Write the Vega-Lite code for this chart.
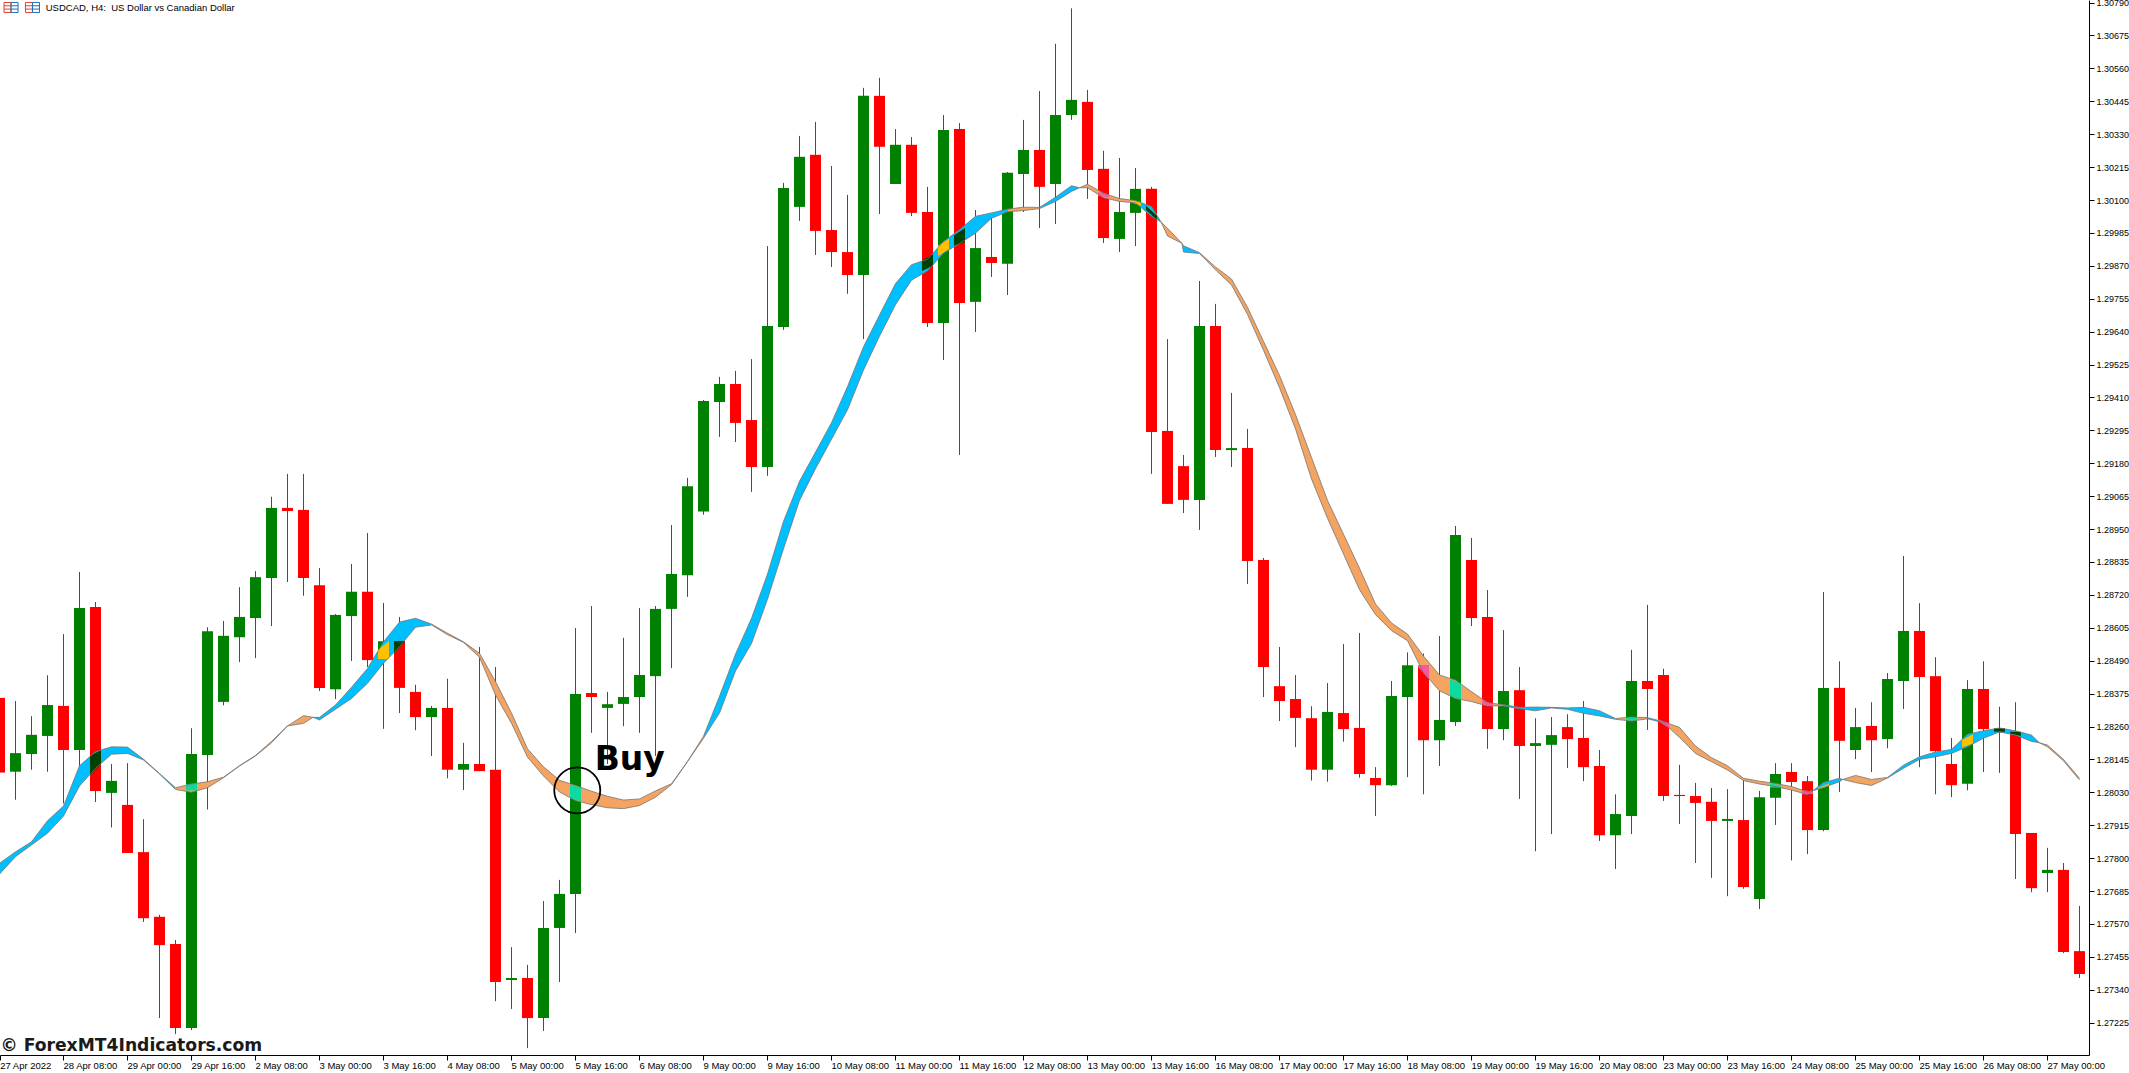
{"$schema":"https://vega.github.io/schema/vega-lite/v6.json","width":2089,"height":1055,"autosize":{"type":"none"},"padding":{"left":0,"top":0,"right":40,"bottom":18},"background":"#ffffff","config":{"view":{"stroke":null}},
"datasets":{"candles":[
{"i":0,"o":1.2836,"h":1.2836,"l":1.28099,"c":1.28099,"kind":"bear"},{"i":1,"o":1.28102,"h":1.28349,"l":1.28004,"c":1.28167,"kind":"bull"},{"i":2,"o":1.28164,"h":1.28296,"l":1.28109,"c":1.28231,"kind":"bull"},{"i":3,"o":1.28227,"h":1.28439,"l":1.28102,"c":1.28335,"kind":"bull"},{"i":4,"o":1.28332,"h":1.28583,"l":1.27991,"c":1.28178,"kind":"bear"},{"i":5,"o":1.28178,"h":1.288,"l":1.28122,"c":1.28674,"kind":"bull"},{"i":6,"o":1.28678,"h":1.28695,"l":1.27996,"c":1.28035,"kind":"bear"},{"i":7,"o":1.28028,"h":1.28129,"l":1.27907,"c":1.2807,"kind":"bull"},{"i":8,"o":1.27986,"h":1.28132,"l":1.27818,"c":1.27818,"kind":"bear"},{"i":9,"o":1.27821,"h":1.27936,"l":1.27577,"c":1.2759,"kind":"bear"},
{"i":10,"o":1.27595,"h":1.27602,"l":1.27241,"c":1.27496,"kind":"bear"},{"i":11,"o":1.275,"h":1.27514,"l":1.27185,"c":1.27206,"kind":"bear"},{"i":12,"o":1.27206,"h":1.28254,"l":1.27199,"c":1.28164,"kind":"bull"},{"i":13,"o":1.2816,"h":1.28607,"l":1.2797,"c":1.28593,"kind":"bull"},{"i":14,"o":1.28346,"h":1.28629,"l":1.28334,"c":1.28577,"kind":"bull"},{"i":15,"o":1.28572,"h":1.28747,"l":1.28485,"c":1.28643,"kind":"bull"},{"i":16,"o":1.28639,"h":1.28803,"l":1.28499,"c":1.28782,"kind":"bull"},{"i":17,"o":1.28779,"h":1.29063,"l":1.28611,"c":1.29024,"kind":"bull"},{"i":18,"o":1.29024,"h":1.29143,"l":1.28765,"c":1.29013,"kind":"bear"},{"i":19,"o":1.29017,"h":1.29143,"l":1.28717,"c":1.28779,"kind":"bear"},
{"i":20,"o":1.28754,"h":1.28814,"l":1.28384,"c":1.28395,"kind":"bear"},{"i":21,"o":1.2839,"h":1.28653,"l":1.28356,"c":1.2865,"kind":"bull"},{"i":22,"o":1.28646,"h":1.28828,"l":1.28489,"c":1.28731,"kind":"bull"},{"i":23,"o":1.28731,"h":1.28936,"l":1.28468,"c":1.28492,"kind":"bear"},{"i":24,"o":1.28497,"h":1.28692,"l":1.28252,"c":1.28558,"kind":"bull"},{"i":25,"o":1.28558,"h":1.28643,"l":1.28307,"c":1.28395,"kind":"bear"},{"i":26,"o":1.28381,"h":1.28406,"l":1.28247,"c":1.28293,"kind":"bear"},{"i":27,"o":1.28293,"h":1.28332,"l":1.28157,"c":1.28325,"kind":"bull"},{"i":28,"o":1.28325,"h":1.28427,"l":1.28079,"c":1.28109,"kind":"bear"},{"i":29,"o":1.28109,"h":1.28203,"l":1.28038,"c":1.28129,"kind":"bull"},
{"i":30,"o":1.28129,"h":1.28538,"l":1.28104,"c":1.28104,"kind":"bear"},{"i":31,"o":1.28109,"h":1.28468,"l":1.273,"c":1.27367,"kind":"bear"},{"i":32,"o":1.27374,"h":1.27489,"l":1.27273,"c":1.27381,"kind":"bull"},{"i":33,"o":1.27381,"h":1.27427,"l":1.27136,"c":1.27241,"kind":"bear"},{"i":34,"o":1.27241,"h":1.2765,"l":1.27196,"c":1.27556,"kind":"bull"},{"i":35,"o":1.27556,"h":1.27724,"l":1.27367,"c":1.27675,"kind":"bull"},{"i":36,"o":1.27675,"h":1.28604,"l":1.27538,"c":1.28374,"kind":"bull"},{"i":37,"o":1.28377,"h":1.28681,"l":1.28238,"c":1.28363,"kind":"bear"},{"i":38,"o":1.28325,"h":1.28381,"l":1.28129,"c":1.28338,"kind":"bull"},{"i":39,"o":1.28339,"h":1.2857,"l":1.28261,"c":1.28363,"kind":"bull"},
{"i":40,"o":1.28363,"h":1.28674,"l":1.28238,"c":1.2844,"kind":"bull"},{"i":41,"o":1.28436,"h":1.28681,"l":1.28157,"c":1.28671,"kind":"bull"},{"i":42,"o":1.28671,"h":1.28964,"l":1.28464,"c":1.28793,"kind":"bull"},{"i":43,"o":1.28789,"h":1.29129,"l":1.28713,"c":1.291,"kind":"bull"},{"i":44,"o":1.29011,"h":1.29401,"l":1.29,"c":1.29398,"kind":"bull"},{"i":45,"o":1.29394,"h":1.29482,"l":1.29272,"c":1.29457,"kind":"bull"},{"i":46,"o":1.29457,"h":1.29503,"l":1.29254,"c":1.29321,"kind":"bear"},{"i":47,"o":1.29331,"h":1.29544,"l":1.2908,"c":1.29167,"kind":"bear"},{"i":48,"o":1.29167,"h":1.29939,"l":1.29136,"c":1.2966,"kind":"bull"},{"i":49,"o":1.29656,"h":1.3016,"l":1.29646,"c":1.30142,"kind":"bull"},
{"i":50,"o":1.30076,"h":1.30324,"l":1.30027,"c":1.30251,"kind":"bull"},{"i":51,"o":1.30258,"h":1.30373,"l":1.29908,"c":1.29992,"kind":"bear"},{"i":52,"o":1.29995,"h":1.30219,"l":1.29866,"c":1.29918,"kind":"bear"},{"i":53,"o":1.29918,"h":1.30118,"l":1.29772,"c":1.29838,"kind":"bear"},{"i":54,"o":1.29838,"h":1.30492,"l":1.29614,"c":1.30464,"kind":"bull"},{"i":55,"o":1.30464,"h":1.30527,"l":1.30051,"c":1.30286,"kind":"bear"},{"i":56,"o":1.30156,"h":1.30348,"l":1.30156,"c":1.30293,"kind":"bull"},{"i":57,"o":1.30293,"h":1.3032,"l":1.30044,"c":1.30055,"kind":"bear"},{"i":58,"o":1.30058,"h":1.30146,"l":1.29656,"c":1.2967,"kind":"bear"},{"i":59,"o":1.2967,"h":1.30397,"l":1.29541,"c":1.30345,"kind":"bull"},
{"i":60,"o":1.30348,"h":1.30369,"l":1.29209,"c":1.2974,"kind":"bear"},{"i":61,"o":1.29744,"h":1.30065,"l":1.29639,"c":1.29932,"kind":"bull"},{"i":62,"o":1.29901,"h":1.30051,"l":1.29831,"c":1.2988,"kind":"bear"},{"i":63,"o":1.29877,"h":1.30198,"l":1.29768,"c":1.30195,"kind":"bull"},{"i":64,"o":1.30191,"h":1.3038,"l":1.30058,"c":1.30275,"kind":"bull"},{"i":65,"o":1.30275,"h":1.30481,"l":1.30002,"c":1.30146,"kind":"bear"},{"i":66,"o":1.30156,"h":1.30646,"l":1.30016,"c":1.30397,"kind":"bull"},{"i":67,"o":1.30397,"h":1.3077,"l":1.3038,"c":1.3045,"kind":"bull"},{"i":68,"o":1.30443,"h":1.30485,"l":1.30104,"c":1.30205,"kind":"bear"},{"i":69,"o":1.30209,"h":1.30272,"l":1.2995,"c":1.29967,"kind":"bear"},
{"i":70,"o":1.29964,"h":1.30247,"l":1.29918,"c":1.30058,"kind":"bull"},{"i":71,"o":1.30055,"h":1.30212,"l":1.29939,"c":1.30139,"kind":"bull"},{"i":72,"o":1.30139,"h":1.30146,"l":1.29143,"c":1.29289,"kind":"bear"},{"i":73,"o":1.29293,"h":1.29614,"l":1.29038,"c":1.29038,"kind":"bear"},{"i":74,"o":1.2917,"h":1.29209,"l":1.29006,"c":1.29052,"kind":"bear"},{"i":75,"o":1.29052,"h":1.29817,"l":1.28947,"c":1.2966,"kind":"bull"},{"i":76,"o":1.2966,"h":1.29737,"l":1.29202,"c":1.29226,"kind":"bear"},{"i":77,"o":1.29226,"h":1.29426,"l":1.29167,"c":1.29233,"kind":"bull"},{"i":78,"o":1.29233,"h":1.293,"l":1.28758,"c":1.28838,"kind":"bear"},{"i":79,"o":1.28842,"h":1.28849,"l":1.28363,"c":1.28468,"kind":"bear"},
{"i":80,"o":1.28401,"h":1.28538,"l":1.28279,"c":1.28349,"kind":"bear"},{"i":81,"o":1.28356,"h":1.2844,"l":1.28188,"c":1.2829,"kind":"bear"},{"i":82,"o":1.28289,"h":1.28331,"l":1.28071,"c":1.28109,"kind":"bear"},{"i":83,"o":1.28109,"h":1.28412,"l":1.28067,"c":1.28311,"kind":"bull"},{"i":84,"o":1.28307,"h":1.28548,"l":1.28207,"c":1.28251,"kind":"bear"},{"i":85,"o":1.28255,"h":1.28587,"l":1.28081,"c":1.28094,"kind":"bear"},{"i":86,"o":1.2808,"h":1.28118,"l":1.27947,"c":1.28055,"kind":"bear"},{"i":87,"o":1.28055,"h":1.28419,"l":1.28052,"c":1.28367,"kind":"bull"},{"i":88,"o":1.28363,"h":1.28519,"l":1.28083,"c":1.28474,"kind":"bull"},{"i":89,"o":1.28474,"h":1.28515,"l":1.28023,"c":1.28212,"kind":"bear"},
{"i":90,"o":1.28212,"h":1.28576,"l":1.28122,"c":1.28283,"kind":"bull"},{"i":91,"o":1.28276,"h":1.28961,"l":1.28262,"c":1.28929,"kind":"bull"},{"i":92,"o":1.28842,"h":1.28919,"l":1.28611,"c":1.28639,"kind":"bear"},{"i":93,"o":1.28643,"h":1.28737,"l":1.28182,"c":1.28251,"kind":"bear"},{"i":94,"o":1.28251,"h":1.28597,"l":1.28212,"c":1.28384,"kind":"bull"},{"i":95,"o":1.28387,"h":1.28468,"l":1.28007,"c":1.28192,"kind":"bear"},{"i":96,"o":1.28192,"h":1.28289,"l":1.27824,"c":1.28202,"kind":"bull"},{"i":97,"o":1.28196,"h":1.28293,"l":1.27884,"c":1.2823,"kind":"bull"},{"i":98,"o":1.28258,"h":1.28303,"l":1.28115,"c":1.28216,"kind":"bear"},{"i":99,"o":1.2822,"h":1.28349,"l":1.28069,"c":1.28118,"kind":"bear"},
{"i":100,"o":1.28122,"h":1.28178,"l":1.2786,"c":1.2788,"kind":"bear"},{"i":101,"o":1.2788,"h":1.28023,"l":1.27762,"c":1.27954,"kind":"bull"},{"i":102,"o":1.27947,"h":1.28528,"l":1.27884,"c":1.28419,"kind":"bull"},{"i":103,"o":1.28419,"h":1.28685,"l":1.28248,"c":1.28391,"kind":"bear"},{"i":104,"o":1.2844,"h":1.28462,"l":1.28,"c":1.28017,"kind":"bear"},{"i":105,"o":1.28021,"h":1.28126,"l":1.27919,"c":1.28017,"kind":"bear"},{"i":106,"o":1.28017,"h":1.28063,"l":1.27783,"c":1.27993,"kind":"bear"},{"i":107,"o":1.27997,"h":1.28045,"l":1.27731,"c":1.2793,"kind":"bear"},{"i":108,"o":1.2793,"h":1.28041,"l":1.27667,"c":1.27937,"kind":"bull"},{"i":109,"o":1.27933,"h":1.28075,"l":1.27693,"c":1.27699,"kind":"bear"},
{"i":110,"o":1.27657,"h":1.28035,"l":1.27622,"c":1.28013,"kind":"bull"},{"i":111,"o":1.28011,"h":1.28132,"l":1.27916,"c":1.28094,"kind":"bull"},{"i":112,"o":1.28101,"h":1.28132,"l":1.27792,"c":1.28066,"kind":"bear"},{"i":113,"o":1.28069,"h":1.28087,"l":1.27814,"c":1.27898,"kind":"bear"},{"i":114,"o":1.27898,"h":1.2873,"l":1.27894,"c":1.28395,"kind":"bull"},{"i":115,"o":1.28395,"h":1.28488,"l":1.28031,"c":1.2821,"kind":"bear"},{"i":116,"o":1.28178,"h":1.28325,"l":1.28146,"c":1.28258,"kind":"bull"},{"i":117,"o":1.28262,"h":1.28345,"l":1.28101,"c":1.28212,"kind":"bear"},{"i":118,"o":1.28216,"h":1.28447,"l":1.28184,"c":1.28426,"kind":"bull"},{"i":119,"o":1.28419,"h":1.28856,"l":1.28321,"c":1.28594,"kind":"bull"},
{"i":120,"o":1.28594,"h":1.28691,"l":1.28118,"c":1.28433,"kind":"bear"},{"i":121,"o":1.28436,"h":1.28502,"l":1.28023,"c":1.28174,"kind":"bear"},{"i":122,"o":1.28129,"h":1.2822,"l":1.28013,"c":1.28055,"kind":"bear"},{"i":123,"o":1.2806,"h":1.28422,"l":1.28037,"c":1.28391,"kind":"bull"},{"i":124,"o":1.28391,"h":1.28488,"l":1.28101,"c":1.28251,"kind":"bear"},{"i":125,"o":1.28251,"h":1.28329,"l":1.28098,"c":1.28239,"kind":"bear"},{"i":126,"o":1.28239,"h":1.28345,"l":1.27727,"c":1.27884,"kind":"bear"},{"i":127,"o":1.27888,"h":1.27888,"l":1.27681,"c":1.27695,"kind":"bear"},{"i":128,"o":1.27748,"h":1.27836,"l":1.27681,"c":1.27759,"kind":"bull"},{"i":129,"o":1.27759,"h":1.27783,"l":1.27468,"c":1.27472,"kind":"bear"},{"i":130,"o":1.27475,"h":1.27633,"l":1.27381,"c":1.27395,"kind":"bear"}
],
"ribbon":[
{"seg":1,"kind":"up","i":0,"hi":1.27782,"lo":1.27744},{"seg":1,"kind":"up","i":1,"hi":1.27822,"lo":1.27805},{"seg":1,"kind":"up","i":2,"hi":1.27857,"lo":1.27846},{"seg":1,"kind":"up","i":3,"hi":1.27931,"lo":1.27887},{"seg":1,"kind":"up","i":4,"hi":1.27982,"lo":1.27947},{"seg":1,"kind":"up","i":5,"hi":1.28123,"lo":1.28052},{"seg":1,"kind":"up","i":6,"hi":1.28172,"lo":1.28114},{"seg":1,"kind":"up","i":7,"hi":1.28189,"lo":1.28163},{"seg":1,"kind":"up","i":8,"hi":1.28188,"lo":1.28166},{"seg":1,"kind":"up","i":9,"hi":1.28146,"lo":1.28143},
{"seg":2,"kind":"down","i":9,"hi":1.28146,"lo":1.28143},{"seg":2,"kind":"down","i":10,"hi":1.28096,"lo":1.28094},
{"seg":3,"kind":"up","i":10,"hi":1.28096,"lo":1.28094},{"seg":3,"kind":"up","i":11,"hi":1.28046,"lo":1.2804},
{"seg":4,"kind":"down","i":11,"hi":1.28046,"lo":1.2804},{"seg":4,"kind":"down","i":12,"hi":1.28059,"lo":1.2803},{"seg":4,"kind":"down","i":13,"hi":1.28067,"lo":1.28046},{"seg":4,"kind":"down","i":14,"hi":1.28083,"lo":1.28081},{"seg":4,"kind":"down","i":15,"hi":1.28123,"lo":1.28122},{"seg":4,"kind":"down","i":16,"hi":1.28159,"lo":1.28157},{"seg":4,"kind":"down","i":17,"hi":1.28208,"lo":1.28203},{"seg":4,"kind":"down","i":18,"hi":1.28262,"lo":1.28262},{"seg":4,"kind":"down","i":19,"hi":1.28298,"lo":1.28271},{"seg":4,"kind":"down","i":19.6,"hi":1.28292,"lo":1.28292},
{"seg":5,"kind":"up","i":19.6,"hi":1.28292,"lo":1.28292},{"seg":5,"kind":"up","i":20,"hi":1.28292,"lo":1.28283},{"seg":5,"kind":"up","i":21,"hi":1.28335,"lo":1.2832},{"seg":5,"kind":"up","i":22,"hi":1.28397,"lo":1.28358},{"seg":5,"kind":"up","i":23,"hi":1.28463,"lo":1.28411},{"seg":5,"kind":"up","i":24,"hi":1.28556,"lo":1.28481},{"seg":5,"kind":"up","i":25,"hi":1.28625,"lo":1.28539},{"seg":5,"kind":"up","i":26,"hi":1.28638,"lo":1.28607},{"seg":5,"kind":"up","i":27,"hi":1.28618,"lo":1.28615},
{"seg":6,"kind":"down","i":27,"hi":1.28618,"lo":1.28615},{"seg":6,"kind":"down","i":28,"hi":1.28586,"lo":1.28581},{"seg":6,"kind":"down","i":29,"hi":1.28556,"lo":1.28554},{"seg":6,"kind":"down","i":30,"hi":1.28516,"lo":1.28502},{"seg":6,"kind":"down","i":31,"hi":1.28417,"lo":1.2837},{"seg":6,"kind":"down","i":32,"hi":1.28307,"lo":1.28271},{"seg":6,"kind":"down","i":33,"hi":1.28182,"lo":1.28153},{"seg":6,"kind":"down","i":34,"hi":1.28119,"lo":1.28087},{"seg":6,"kind":"down","i":35,"hi":1.28072,"lo":1.28031},{"seg":6,"kind":"down","i":36,"hi":1.28054,"lo":1.28001},{"seg":6,"kind":"down","i":37,"hi":1.28034,"lo":1.27987},{"seg":6,"kind":"down","i":38,"hi":1.28016,"lo":1.27976},{"seg":6,"kind":"down","i":39,"hi":1.28003,"lo":1.27973},{"seg":6,"kind":"down","i":40,"hi":1.28007,"lo":1.27984},{"seg":6,"kind":"down","i":41,"hi":1.28035,"lo":1.28013},{"seg":6,"kind":"down","i":42,"hi":1.2806,"lo":1.28057},{"seg":6,"kind":"down","i":43,"hi":1.28138,"lo":1.28137},{"seg":6,"kind":"down","i":44,"hi":1.28226,"lo":1.28219},
{"seg":7,"kind":"up","i":44,"hi":1.28226,"lo":1.28219},{"seg":7,"kind":"up","i":45,"hi":1.28366,"lo":1.28307},{"seg":7,"kind":"up","i":46,"hi":1.28513,"lo":1.28454},{"seg":7,"kind":"up","i":47,"hi":1.28638,"lo":1.2855},{"seg":7,"kind":"up","i":48,"hi":1.28793,"lo":1.28705},{"seg":7,"kind":"up","i":49,"hi":1.28977,"lo":1.28881},{"seg":7,"kind":"up","i":50,"hi":1.29117,"lo":1.2905},{"seg":7,"kind":"up","i":51,"hi":1.29219,"lo":1.29161},{"seg":7,"kind":"up","i":52,"hi":1.29322,"lo":1.29264},{"seg":7,"kind":"up","i":53,"hi":1.29448,"lo":1.29367},{"seg":7,"kind":"up","i":54,"hi":1.29587,"lo":1.29506},{"seg":7,"kind":"up","i":55,"hi":1.29698,"lo":1.29624},{"seg":7,"kind":"up","i":56,"hi":1.29808,"lo":1.29734},{"seg":7,"kind":"up","i":57,"hi":1.29874,"lo":1.2982},{"seg":7,"kind":"up","i":58,"hi":1.29893,"lo":1.29852},{"seg":7,"kind":"up","i":59,"hi":1.29955,"lo":1.29914},{"seg":7,"kind":"up","i":60,"hi":1.29996,"lo":1.29948},{"seg":7,"kind":"up","i":61,"hi":1.30043,"lo":1.29984},{"seg":7,"kind":"up","i":62,"hi":1.30055,"lo":1.30036},{"seg":7,"kind":"up","i":63,"hi":1.30068,"lo":1.30059},
{"seg":8,"kind":"down","i":63,"hi":1.30068,"lo":1.30059},{"seg":8,"kind":"down","i":64,"hi":1.30075,"lo":1.30063},{"seg":8,"kind":"down","i":65,"hi":1.30074,"lo":1.3007},
{"seg":9,"kind":"up","i":65,"hi":1.30074,"lo":1.3007},{"seg":9,"kind":"up","i":66,"hi":1.3011,"lo":1.30095},{"seg":9,"kind":"up","i":67,"hi":1.3015,"lo":1.3013},{"seg":9,"kind":"up","i":67.5,"hi":1.30143,"lo":1.30143},
{"seg":10,"kind":"down","i":67.5,"hi":1.30143,"lo":1.30143},{"seg":10,"kind":"down","i":68,"hi":1.30155,"lo":1.30143},{"seg":10,"kind":"down","i":69,"hi":1.30124,"lo":1.30108},{"seg":10,"kind":"down","i":70,"hi":1.30105,"lo":1.30095},{"seg":10,"kind":"down","i":71,"hi":1.30098,"lo":1.3009},
{"seg":11,"kind":"up","i":71,"hi":1.30098,"lo":1.3009},{"seg":11,"kind":"up","i":72,"hi":1.30077,"lo":1.30043},{"seg":11,"kind":"up","i":72.6,"hi":1.30023,"lo":1.30023},
{"seg":12,"kind":"down","i":72.6,"hi":1.30023,"lo":1.30023},{"seg":12,"kind":"down","i":73,"hi":1.30001,"lo":1.29974},{"seg":12,"kind":"down","i":73.9,"hi":1.29949,"lo":1.29949},
{"seg":13,"kind":"up","i":73.9,"hi":1.29949,"lo":1.29949},{"seg":13,"kind":"up","i":74,"hi":1.2994,"lo":1.29918},{"seg":13,"kind":"up","i":75,"hi":1.29916,"lo":1.29913},
{"seg":14,"kind":"down","i":75,"hi":1.29916,"lo":1.29913},{"seg":14,"kind":"down","i":76,"hi":1.29866,"lo":1.29856},{"seg":14,"kind":"down","i":77,"hi":1.29824,"lo":1.29803},{"seg":14,"kind":"down","i":78,"hi":1.29725,"lo":1.297},{"seg":14,"kind":"down","i":79,"hi":1.29606,"lo":1.29575},{"seg":14,"kind":"down","i":80,"hi":1.29487,"lo":1.29444},{"seg":14,"kind":"down","i":81,"hi":1.2935,"lo":1.293},{"seg":14,"kind":"down","i":82,"hi":1.292,"lo":1.29125},{"seg":14,"kind":"down","i":83,"hi":1.2905,"lo":1.28988},{"seg":14,"kind":"down","i":84,"hi":1.28932,"lo":1.28863},{"seg":14,"kind":"down","i":85,"hi":1.28813,"lo":1.28738},{"seg":14,"kind":"down","i":86,"hi":1.28688,"lo":1.28651},{"seg":14,"kind":"down","i":87,"hi":1.28622,"lo":1.28595},{"seg":14,"kind":"down","i":88,"hi":1.28583,"lo":1.2856},{"seg":14,"kind":"down","i":89,"hi":1.28506,"lo":1.28448},{"seg":14,"kind":"down","i":90,"hi":1.2844,"lo":1.28385},{"seg":14,"kind":"down","i":91,"hi":1.28422,"lo":1.28358},{"seg":14,"kind":"down","i":92,"hi":1.28382,"lo":1.28347},{"seg":14,"kind":"down","i":93,"hi":1.28343,"lo":1.28332},{"seg":14,"kind":"down","i":94,"hi":1.28336,"lo":1.28332},
{"seg":15,"kind":"up","i":94,"hi":1.28336,"lo":1.28332},{"seg":15,"kind":"up","i":95,"hi":1.28327,"lo":1.28322},{"seg":15,"kind":"up","i":96,"hi":1.28328,"lo":1.28315},{"seg":15,"kind":"up","i":97,"hi":1.28327,"lo":1.28325},{"seg":15,"kind":"up","i":98,"hi":1.28325,"lo":1.2832},{"seg":15,"kind":"up","i":99,"hi":1.28327,"lo":1.28306},{"seg":15,"kind":"up","i":100,"hi":1.28315,"lo":1.28297},{"seg":15,"kind":"up","i":101,"hi":1.28288,"lo":1.28285},
{"seg":16,"kind":"down","i":101,"hi":1.28288,"lo":1.28285},{"seg":16,"kind":"down","i":102,"hi":1.28293,"lo":1.28279},{"seg":16,"kind":"down","i":103,"hi":1.28291,"lo":1.28287},
{"seg":17,"kind":"up","i":103,"hi":1.28291,"lo":1.28287},{"seg":17,"kind":"up","i":104,"hi":1.28277,"lo":1.28273},
{"seg":18,"kind":"down","i":104,"hi":1.28277,"lo":1.28273},{"seg":18,"kind":"down","i":105,"hi":1.28257,"lo":1.28222},{"seg":18,"kind":"down","i":106,"hi":1.28192,"lo":1.28166},{"seg":18,"kind":"down","i":107,"hi":1.28151,"lo":1.28137},{"seg":18,"kind":"down","i":108,"hi":1.28123,"lo":1.28108},{"seg":18,"kind":"down","i":109,"hi":1.28079,"lo":1.28071},{"seg":18,"kind":"down","i":110,"hi":1.28069,"lo":1.28059},{"seg":18,"kind":"down","i":111,"hi":1.28061,"lo":1.2805},{"seg":18,"kind":"down","i":112,"hi":1.2805,"lo":1.28038},{"seg":18,"kind":"down","i":113,"hi":1.28032,"lo":1.28022},{"seg":18,"kind":"down","i":113.35,"hi":1.28036,"lo":1.28036},
{"seg":19,"kind":"up","i":113.35,"hi":1.28036,"lo":1.28036},{"seg":19,"kind":"up","i":114,"hi":1.28064,"lo":1.28047},{"seg":19,"kind":"up","i":115,"hi":1.28079,"lo":1.28067},{"seg":19,"kind":"up","i":115.2,"hi":1.28075,"lo":1.28075},
{"seg":20,"kind":"down","i":115.2,"hi":1.28075,"lo":1.28075},{"seg":20,"kind":"down","i":116,"hi":1.28089,"lo":1.28064},{"seg":20,"kind":"down","i":117,"hi":1.28075,"lo":1.28054},{"seg":20,"kind":"down","i":118,"hi":1.28082,"lo":1.2808},
{"seg":21,"kind":"up","i":118,"hi":1.28082,"lo":1.2808},{"seg":21,"kind":"up","i":119,"hi":1.28125,"lo":1.28114},{"seg":21,"kind":"up","i":120,"hi":1.28154,"lo":1.28145},{"seg":21,"kind":"up","i":121,"hi":1.28171,"lo":1.28154},{"seg":21,"kind":"up","i":122,"hi":1.2818,"lo":1.28166},{"seg":21,"kind":"up","i":123,"hi":1.28233,"lo":1.28189},{"seg":21,"kind":"up","i":124,"hi":1.28245,"lo":1.28219},{"seg":21,"kind":"up","i":125,"hi":1.28255,"lo":1.28241},{"seg":21,"kind":"up","i":126,"hi":1.28245,"lo":1.2823},{"seg":21,"kind":"up","i":127,"hi":1.2823,"lo":1.28208},{"seg":21,"kind":"up","i":127.5,"hi":1.28203,"lo":1.28203},
{"seg":22,"kind":"down","i":127.5,"hi":1.28203,"lo":1.28203},{"seg":22,"kind":"down","i":128,"hi":1.28195,"lo":1.28189},{"seg":22,"kind":"down","i":129,"hi":1.28145,"lo":1.2814},{"seg":22,"kind":"down","i":130,"hi":1.28079,"lo":1.28073}
],
"overlaps":[
{"p":6,"kind":"up on bear","i":5.656,"hi":1.28158,"lo":1.2809},{"p":6,"kind":"up on bear","i":6.344,"hi":1.28178,"lo":1.28129},
{"p":12,"kind":"down on bull","i":11.656,"hi":1.28058,"lo":1.28036},{"p":12,"kind":"down on bull","i":12.344,"hi":1.28061,"lo":1.28036},
{"p":24,"kind":"up on bull","i":23.656,"hi":1.28527,"lo":1.28496},{"p":24,"kind":"up on bull","i":24.344,"hi":1.28559,"lo":1.28496},
{"p":25,"kind":"up on bear","i":24.656,"hi":1.28559,"lo":1.28516},{"p":25,"kind":"up on bear","i":25.344,"hi":1.28559,"lo":1.28557},
{"p":36,"kind":"down on bull","i":35.656,"hi":1.28057,"lo":1.2801},{"p":36,"kind":"down on bull","i":36.344,"hi":1.28046,"lo":1.27998},
{"p":58,"kind":"up on bear","i":57.656,"hi":1.29889,"lo":1.29852},{"p":58,"kind":"up on bear","i":58.344,"hi":1.29911,"lo":1.2987},
{"p":59,"kind":"up on bull","i":58.656,"hi":1.2994,"lo":1.29904},{"p":59,"kind":"up on bull","i":59.344,"hi":1.29965,"lo":1.29929},
{"p":60,"kind":"up on bear","i":59.656,"hi":1.29977,"lo":1.2994},{"p":60,"kind":"up on bear","i":60.344,"hi":1.30002,"lo":1.29952},
{"p":69,"kind":"down on bear","i":68.656,"hi":1.30128,"lo":1.30115},{"p":69,"kind":"down on bear","i":69.344,"hi":1.3012,"lo":1.30108},
{"p":71,"kind":"up on bull","i":70.656,"hi":1.30099,"lo":1.30093},{"p":71,"kind":"up on bull","i":71.344,"hi":1.30093,"lo":1.3008},
{"p":72,"kind":"up on bear","i":71.656,"hi":1.3008,"lo":1.30065},{"p":72,"kind":"up on bear","i":72.344,"hi":1.30045,"lo":1.3003},
{"p":89,"kind":"down on bear","i":88.656,"hi":1.28475,"lo":1.28469},{"p":89,"kind":"down on bear","i":89.344,"hi":1.28475,"lo":1.28425},
{"p":91,"kind":"down on bull","i":90.656,"hi":1.28425,"lo":1.28367},{"p":91,"kind":"down on bull","i":91.344,"hi":1.28411,"lo":1.28353},
{"p":93,"kind":"down on bear","i":92.656,"hi":1.28353,"lo":1.28339},{"p":93,"kind":"down on bear","i":93.344,"hi":1.28339,"lo":1.28329},
{"p":102,"kind":"down on bull","i":101.656,"hi":1.28292,"lo":1.2828},{"p":102,"kind":"down on bull","i":102.344,"hi":1.28293,"lo":1.2828},
{"p":104,"kind":"down on bear","i":103.656,"hi":1.28285,"lo":1.28279},{"p":104,"kind":"down on bear","i":104.344,"hi":1.28271,"lo":1.28254},
{"p":111,"kind":"down on bull","i":110.656,"hi":1.28061,"lo":1.28047},{"p":111,"kind":"down on bull","i":111.344,"hi":1.28055,"lo":1.28047},
{"p":113,"kind":"down on bear","i":112.656,"hi":1.28038,"lo":1.28023},{"p":113,"kind":"down on bear","i":113.344,"hi":1.28032,"lo":1.28024},
{"p":114,"kind":"up on bull","i":113.656,"hi":1.28044,"lo":1.2804},{"p":114,"kind":"up on bull","i":114.344,"hi":1.28061,"lo":1.28052},
{"p":123,"kind":"up on bull","i":122.656,"hi":1.28213,"lo":1.28187},{"p":123,"kind":"up on bull","i":123.344,"hi":1.28233,"lo":1.28201},
{"p":125,"kind":"up on bear","i":124.656,"hi":1.28254,"lo":1.28242},{"p":125,"kind":"up on bear","i":125.344,"hi":1.28254,"lo":1.28242},
{"p":126,"kind":"up on bear","i":125.656,"hi":1.28242,"lo":1.28236},{"p":126,"kind":"up on bear","i":126.344,"hi":1.28242,"lo":1.28227}
]},
"layer":[
{"data":{"name":"candles"},"mark":{"type":"rule","strokeWidth":1},"encoding":{"x":{"field":"i","type":"quantitative","scale":{"domain":[0.03125,130.59375],"nice":false,"zero":false,"padding":0},"axis":{"values":[0.04,4,8,12,16,20,24,28,32,36,40,44,48,52,56,60,64,68,72,76,80,84,88,92,96,100,104,108,112,116,120,124,128],"tickCount":40,"labelExpr":"['27 Apr 2022','28 Apr 08:00','29 Apr 00:00','29 Apr 16:00','2 May 08:00','3 May 00:00','3 May 16:00','4 May 08:00','5 May 00:00','5 May 16:00','6 May 08:00','9 May 00:00','9 May 16:00','10 May 08:00','11 May 00:00','11 May 16:00','12 May 08:00','13 May 00:00','13 May 16:00','16 May 08:00','17 May 00:00','17 May 16:00','18 May 08:00','19 May 00:00','19 May 16:00','20 May 08:00','23 May 00:00','23 May 16:00','24 May 08:00','25 May 00:00','25 May 16:00','26 May 08:00','27 May 00:00'][floor(datum.value/4)]","title":null,"grid":false,"orient":"bottom","labelAlign":"left","labelBaseline":"top","labelAngle":0,"labelPadding":0,"labelOverlap":false,"labelFlush":false,"labelBound":false,"labelFont":"Liberation Sans","labelFontSize":9.5,"labelColor":"#000000","tickColor":"#000000","tickSize":5,"tickOffset":-0.5,"domainColor":"#000000","domainWidth":1}},"y":{"field":"l","type":"quantitative","scale":{"domain":[1.27112,1.30799],"nice":false,"zero":false},"axis":{"values":[1.3079,1.30675,1.3056,1.30445,1.3033,1.30215,1.301,1.29985,1.2987,1.29755,1.2964,1.29525,1.2941,1.29295,1.2918,1.29065,1.2895,1.28835,1.2872,1.28605,1.2849,1.28375,1.2826,1.28145,1.2803,1.27915,1.278,1.27685,1.2757,1.27455,1.2734,1.27225],"tickCount":40,"format":".5f","title":null,"grid":false,"orient":"right","labelPadding":2,"labelOverlap":false,"labelFlush":false,"labelBound":false,"labelFont":"Liberation Sans","labelFontSize":9,"labelColor":"#000000","tickColor":"#000000","tickSize":5,"domainColor":"#000000","domainWidth":1}},"y2":{"field":"h"},"color":{"field":"kind","type":"nominal","legend":null,"scale":{"domain":["bull","bear","up","down","up on bull","up on bear","down on bull","down on bear"],"range":["#008000","#FF0000","#00BFFF","#F4A460","#FFC000","#004000","#0BDB9F","#F45B9F"]}}}},
{"data":{"name":"candles"},"mark":{"type":"bar","size":11},"encoding":{"x":{"field":"i","type":"quantitative","scale":{"padding":0}},"y":{"field":"o","type":"quantitative"},"y2":{"field":"c"},"color":{"field":"kind","type":"nominal","legend":null}}},
{"data":{"name":"ribbon"},"mark":{"type":"area"},"encoding":{"x":{"field":"i","type":"quantitative"},"y":{"field":"hi","type":"quantitative"},"y2":{"field":"lo"},"detail":{"field":"seg","type":"nominal"},"color":{"field":"kind","type":"nominal","legend":null}}},
{"data":{"name":"overlaps"},"mark":{"type":"area"},"encoding":{"x":{"field":"i","type":"quantitative"},"y":{"field":"hi","type":"quantitative"},"y2":{"field":"lo"},"detail":{"field":"p","type":"nominal"},"color":{"field":"kind","type":"nominal","legend":null}}},
{"data":{"name":"ribbon"},"mark":{"type":"line","color":"#757575","strokeWidth":0.8},"encoding":{"x":{"field":"i","type":"quantitative"},"y":{"field":"hi","type":"quantitative"}}},
{"data":{"name":"ribbon"},"mark":{"type":"line","color":"#757575","strokeWidth":0.8},"encoding":{"x":{"field":"i","type":"quantitative"},"y":{"field":"lo","type":"quantitative"}}},
{"data":{"values":[{"i":36.11,"p":1.28037}]},"mark":{"type":"point","shape":"circle","size":2116,"filled":false,"stroke":"#000000","strokeWidth":1.8,"opacity":1},"encoding":{"x":{"field":"i","type":"quantitative"},"y":{"field":"p","type":"quantitative"}}},
{"data":{"values":[{"i":37.2,"p":1.28108,"note":"Buy"}]},"mark":{"type":"text","align":"left","baseline":"alphabetic","font":"DejaVu Sans","fontWeight":"bold","fontSize":33,"color":"#000000"},"encoding":{"x":{"field":"i","type":"quantitative"},"y":{"field":"p","type":"quantitative"},"text":{"field":"note"}}},
{"data":{"values":[{"i":0.06,"p":1.27127,"note":"© ForexMT4Indicators.com"}]},"mark":{"type":"text","align":"left","baseline":"alphabetic","font":"DejaVu Sans","fontWeight":"bold","fontSize":17.2,"color":"#1a1a1a"},"encoding":{"x":{"field":"i","type":"quantitative"},"y":{"field":"p","type":"quantitative"},"text":{"field":"note"}}},
{"data":{"values":[{"i":2.89,"p":1.30761,"note":"USDCAD, H4: \u00a0US Dollar vs Canadian Dollar"}]},"mark":{"type":"text","align":"left","baseline":"alphabetic","font":"Liberation Sans","fontSize":9.5,"color":"#000000"},"encoding":{"x":{"field":"i","type":"quantitative"},"y":{"field":"p","type":"quantitative"},"text":{"field":"note"}}},
{"data":{"values":[{"i":0.5,"p":1.30773,"part":"a"},{"i":1.84,"p":1.30773,"part":"a"}]},"mark":{"type":"point","shape":"M-0.7,-1H0.7V1H-0.7Z M-0.7,-0.33H0.7 M-0.7,0.33H0.7","size":100,"filled":false,"stroke":"#E04030","strokeWidth":1,"opacity":1},"encoding":{"x":{"field":"i","type":"quantitative"},"y":{"field":"p","type":"quantitative"}}},
{"data":{"values":[{"i":0.94,"p":1.30773,"part":"b"},{"i":2.28,"p":1.30773,"part":"b"}]},"mark":{"type":"point","shape":"M-0.7,-1H0.7V1H-0.7Z M-0.7,-0.33H0.7 M-0.7,0.33H0.7","size":100,"filled":false,"stroke":"#1F6FB5","strokeWidth":1,"opacity":1},"encoding":{"x":{"field":"i","type":"quantitative"},"y":{"field":"p","type":"quantitative"}}}
]}
